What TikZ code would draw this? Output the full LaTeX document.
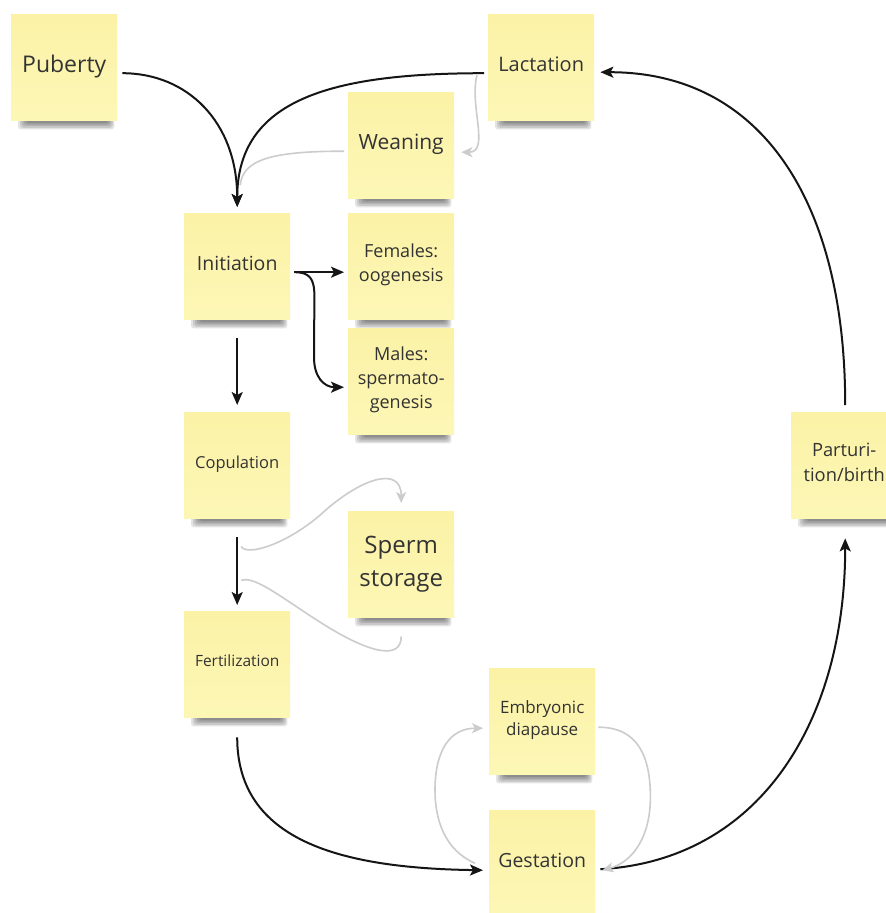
\documentclass[tikz,border=0pt]{standalone}
\usepackage{fontspec}
\setmainfont{Open Sans}
\usetikzlibrary{arrows.meta,calc}
\definecolor{notetop}{HTML}{FBF2A6}
\definecolor{notebot}{HTML}{FDF7B6}
\definecolor{txt}{HTML}{333333}
\definecolor{lgray}{HTML}{CCCCCC}
\definecolor{dk}{HTML}{151515}
\pgfdeclarelayer{bg}
\pgfsetlayers{bg,main}
\newcommand\notestrut{\rule[-\dimexpr0.3em+3pt\relax]{0pt}{1.314em}}
\tikzset{
 sticky/.style={anchor=north west, minimum width=106pt, minimum height=106pt, inner sep=2pt,
   top color=notetop, bottom color=notebot, draw=none, text=txt, align=center, text width=100pt},
 fs/.style 2 args={font={\fontsize{#1}{#2}\selectfont}},
 blk/.style={draw=dk, line width=2pt, -{Stealth[length=13pt,width=11pt,inset=3pt]}},
 gry/.style={draw=lgray, line width=1.6pt, -{Stealth[length=11pt,width=10pt,inset=3pt]}},
 grynohead/.style={draw=lgray, line width=1.6pt},
}
\begin{document}
\begin{tikzpicture}[x=1pt,y=-1pt]
\useasboundingbox (0,0) rectangle (886,913);
% notes
\node[sticky,fs={23}{30}] (puberty) at (11,14) {\notestrut Puberty};
\node[sticky,fs={20}{26}] (lactation) at (488,14) {\notestrut Lactation};
\node[sticky,fs={21}{27}] (weaning) at (348,92) {\notestrut Weaning};
\node[sticky,fs={19.5}{25}] (initiation) at (184,213) {\notestrut Initiation};
\node[sticky,fs={18}{24}] (females) at (348,213) {\notestrut Females:\\oogenesis\notestrut};
\node[sticky,fs={18}{24}] (males) at (348,328) {\notestrut Males:\\spermato-\\genesis\notestrut};
\node[sticky,fs={16.5}{22}] (copulation) at (184,412) {\notestrut Copulation};
\node[sticky,fs={24}{31}] (sperm) at (348,511) {\notestrut Sperm\\storage\notestrut};
\node[sticky,fs={15.5}{21}] (fertilization) at (184,611) {\notestrut Fertilization};
\node[sticky,fs={17}{22.5}] (diapause) at (489,668) {\notestrut Embryonic\\diapause\notestrut};
\node[sticky,fs={19.5}{25}] (gestation) at (489,810) {\notestrut Gestation};
\node[sticky,fs={18.3}{24}] (birth) at (791,412) {\notestrut Parturi-\\tion/birth\notestrut};
% background and shadows
\begin{pgfonlayer}{bg}
\fill[white] (0,0) rectangle (886,913);
\foreach \n in {puberty,lactation,weaning,initiation,females,males,copulation,sperm,fertilization,diapause,gestation,birth}{
  \foreach \k in {0,...,4}{
    \pgfmathsetmacro\xa{7+2*\k}
    \pgfmathsetmacro\xb{-3-1.5*\k}
    \pgfmathsetmacro\yb{-9+1.6*\k}
    \fill[black,opacity=0.11,rounded corners=3pt] ([xshift=\xa pt,yshift=6pt]\n.south west) rectangle ([xshift=\xb pt,yshift=\yb pt]\n.south east);
  }
}
\end{pgfonlayer}
% grey connectors
\draw[gry] ([xshift=-11pt,yshift=-8pt]lactation.west) .. controls +(-8,30) and +(29,0) .. ([xshift=7pt,yshift=-7pt]weaning.east);
\draw[grynohead] ([xshift=-4pt,yshift=-6pt]weaning.west) .. controls +(-74,0) and +(3,-25) .. ([xshift=3pt,yshift=28pt]initiation.north);
\draw[gry] ([xshift=4pt,yshift=-28pt]copulation.south) .. controls +(5,10) and +(-35,30) .. ([xshift=-81pt,yshift=-4pt]sperm.north) .. controls +(40,-37) and +(0,-38) .. ([yshift=8pt]sperm.north);
\draw[grynohead] ([yshift=-19pt]sperm.south) .. controls +(0,24) and +(40,24) .. ([xshift=-71pt,yshift=-11pt]sperm.south) .. controls +(-40,-24) and +(14,-6) .. ([xshift=4pt,yshift=-62pt]copulation.south);
% black connectors
\draw[blk] ([xshift=5pt,yshift=-6pt]puberty.east) .. controls +(65,0) and +(0,-85) .. ([yshift=6pt]initiation.north);
\draw[blk] ([xshift=-4pt,yshift=-6pt]lactation.west) .. controls +(-154,0) and +(0,-107) .. ([yshift=6pt]initiation.north);
\draw[blk] ([xshift=4pt,yshift=-6pt]initiation.east) -- ([xshift=-4pt,yshift=-6pt]females.west);
\draw[blk] ([xshift=4pt,yshift=-6pt]initiation.east) .. controls +(15,0) and +(0,-18) .. ([xshift=24pt,yshift=-30pt]initiation.east) -- ([xshift=-34pt,yshift=24pt]males.west) .. controls +(0,20) and +(-20,0) .. ([xshift=-4pt,yshift=-6pt]males.west);
\draw[blk] ([yshift=-19pt]initiation.south) -- ([yshift=7pt]copulation.north);
\draw[blk] ([yshift=-19pt]copulation.south) -- ([yshift=6pt]fertilization.north);
\draw[blk] ([yshift=-20pt]fertilization.south) .. controls +(0,103) and +(-143,-2) .. ([xshift=-6pt,yshift=-7pt]gestation.west);
\draw[blk] ([xshift=5pt,yshift=-6pt]gestation.east) .. controls +(160,-9) and +(0,182) .. ([xshift=1pt,yshift=-20pt]birth.south);
\draw[blk] ([xshift=1pt,yshift=7pt]birth.north) .. controls +(0,-205) and +(160,0) .. ([xshift=6pt,yshift=-5pt]lactation.east);
% diapause loops
\draw[gry] ([xshift=-14pt]gestation.west) .. controls +(-30,-13) and +(0,30) .. ([xshift=-54pt,yshift=-69pt]diapause.west) .. controls +(0,-40) and +(-33,0) .. ([xshift=-6pt,yshift=-7pt]diapause.west);
\draw[gry] ([xshift=3pt,yshift=-6pt]diapause.east) .. controls +(40,0) and +(0,-40) .. ([xshift=55pt,yshift=-76pt]diapause.east) .. controls +(0,40) and +(30,-8) .. ([xshift=7pt,yshift=-7pt]gestation.east);
\end{tikzpicture}
\end{document}
